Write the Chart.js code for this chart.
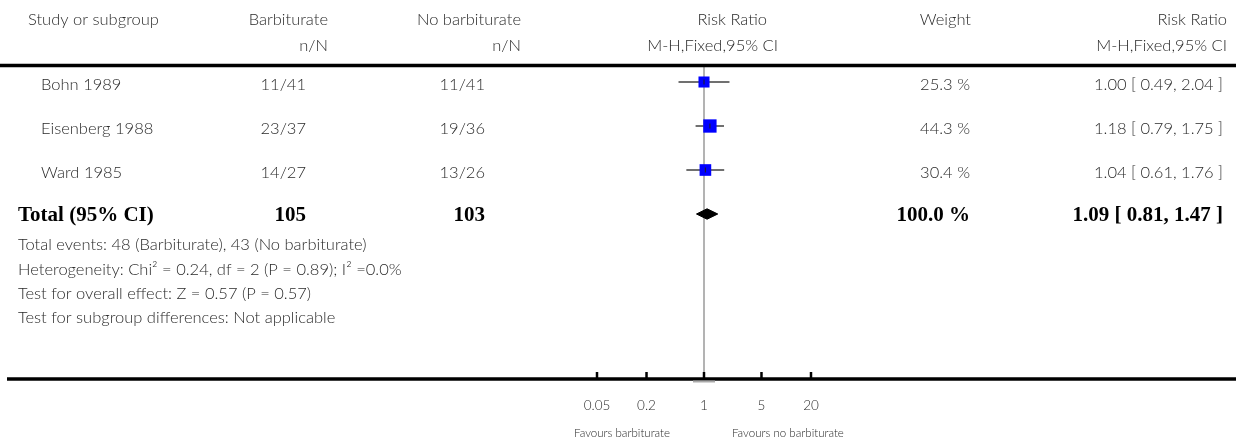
<!DOCTYPE html>
<html lang="en">
<head>
    <meta charset="UTF-8">
    <title>Forest plot - Barbiturate vs no barbiturate</title>
    <style>
        html, body { margin: 0; padding: 0; background: #fff; }
        #wrap { width: 1236px; height: 447px; }
    </style>
    <script src="https://cdn.jsdelivr.net/npm/chart.js"></script>
</head>
<body>
<div id="wrap"><canvas id="forest"></canvas></div>

<script>
    // data
    const studies = ['Bohn 1989', 'Eisenberg 1988', 'Ward 1985'];
    const barbEvents = ['11/41', '23/37', '14/27'];
    const noBarbEvents = ['11/41', '19/36', '13/26'];
    const weights = [25.3, 44.3, 30.4];
    const riskRatio = [1.00, 1.18, 1.04];
    const ciLow = [0.49, 0.79, 0.61];
    const ciHigh = [2.04, 1.75, 1.76];

    const totalLabel = 'Total (95% CI)';
    const totalBarbN = 105;
    const totalNoBarbN = 103;
    const totalWeight = 100.0;
    const totalRR = [1.09];
    const totalLow = [0.81];
    const totalHigh = [1.47];

    const footnotes = [
        'Total events: 48 (Barbiturate), 43 (No barbiturate)',
        'Heterogeneity: Chi\u00b2 = 0.24, df = 2 (P = 0.89); I\u00b2 =0.0%',
        'Test for overall effect: Z = 0.57 (P = 0.57)',
        'Test for subgroup differences: Not applicable'
    ];
    const xTicks = [0.05, 0.2, 1, 5, 20];
    const favoursLeft = 'Favours barbiturate';
    const favoursRight = 'Favours no barbiturate';

    // layout (pixels)
    const ROW_MIN = 0.6136, ROW_MAX = 7.727;   // row 1 sits 17px under the top rule, rows 44px apart
    const LIGHT = '300 16.5px Lato, "Open Sans", sans-serif';
    const BOLD = 'bold 21px "Liberation Serif", "DejaVu Serif", serif';
    const TXT = '#2a2a2a';

    const fmt2 = v => v.toFixed(2);
    const rows = studies.map((s, i) => i + 1);
    const totalRow = studies.length + 1;

    // datasets (lower order is drawn on top)
    const datasets = [];
    datasets.push({
        type: 'line', order: 6, data: [{ x: 1, y: ROW_MIN }, { x: 1, y: ROW_MAX }],
        borderColor: '#9a9a9a', borderWidth: 1.5, pointRadius: 0
    });
    studies.forEach((s, i) => {
        datasets.push({
            type: 'line', order: 5, data: [{ x: ciLow[i], y: rows[i] }, { x: ciHigh[i], y: rows[i] }],
            borderColor: '#707070', borderWidth: 2, pointRadius: 0
        });
    });
    datasets.push({
        type: 'scatter', order: 3,
        data: studies.map((s, i) => ({ x: riskRatio[i], y: rows[i] })),
        pointStyle: 'rect',
        pointRadius: weights.map(w => (8 + w * 0.12) / Math.SQRT2),
        backgroundColor: '#0000ff', borderColor: '#0000ff', borderWidth: 0
    });
    datasets.push({
        type: 'scatter', order: 2,
        data: studies.map((s, i) => ({ x: riskRatio[i], y: rows[i] })),
        pointStyle: 'line', rotation: 90, pointRadius: 2.5,
        borderColor: '#1a1a40', borderWidth: 1.2
    });
    // pooled diamond
    const dh = 5.2 / 44;
    datasets.push({
        type: 'line', order: 1,
        data: [
            { x: totalLow[0], y: totalRow },
            { x: totalRR[0], y: totalRow - dh },
            { x: totalHigh[0], y: totalRow },
            { x: totalRR[0], y: totalRow + dh },
            { x: totalLow[0], y: totalRow }
        ],
        borderColor: '#000', borderWidth: 1, backgroundColor: '#000',
        fill: 'shape', pointRadius: 0, tension: 0
    });

    function txt(ctx, s, x, y, align, font, color) {
        ctx.font = font;
        ctx.fillStyle = color || TXT;
        ctx.textAlign = align;
        ctx.textBaseline = 'middle';
        ctx.fillText(s, x, y);
    }

    const tablePlugin = {
        id: 'table',
        afterDraw(chart) {
            const ctx = chart.ctx;
            const xs = chart.scales.x, ys = chart.scales.y;
            const W = chart.width;
            ctx.save();

            // header
            txt(ctx, 'Study or subgroup', 28, 20, 'left', LIGHT);
            txt(ctx, 'Barbiturate', 328, 20, 'right', LIGHT);
            txt(ctx, 'n/N', 328, 46, 'right', LIGHT);
            txt(ctx, 'No barbiturate', 521, 20, 'right', LIGHT);
            txt(ctx, 'n/N', 521, 46, 'right', LIGHT);
            txt(ctx, 'Risk Ratio', 767, 20, 'right', LIGHT);
            txt(ctx, 'M-H,Fixed,95% CI', 778, 46, 'right', LIGHT);
            txt(ctx, 'Weight', 971, 20, 'right', LIGHT);
            txt(ctx, 'Risk Ratio', 1227, 20, 'right', LIGHT);
            txt(ctx, 'M-H,Fixed,95% CI', 1227, 46, 'right', LIGHT);

            // rules
            ctx.strokeStyle = '#000';
            ctx.lineWidth = 3.5;
            ctx.beginPath();
            ctx.moveTo(0, chart.chartArea.top + 0.5);
            ctx.lineTo(W, chart.chartArea.top + 0.5);
            ctx.stroke();
            const axisY = chart.chartArea.bottom + 1;
            ctx.beginPath();
            ctx.moveTo(7, axisY);
            ctx.lineTo(W, axisY);
            ctx.stroke();

            // study rows
            studies.forEach((s, i) => {
                const y = ys.getPixelForValue(rows[i]) + 3;
                txt(ctx, s, 41, y, 'left', LIGHT);
                txt(ctx, barbEvents[i], 306, y, 'right', LIGHT);
                txt(ctx, noBarbEvents[i], 485, y, 'right', LIGHT);
                txt(ctx, weights[i].toFixed(1) + ' %', 970, y, 'right', LIGHT);
                txt(ctx, fmt2(riskRatio[i]) + ' [ ' + fmt2(ciLow[i]) + ', ' + fmt2(ciHigh[i]) + ' ]', 1223, y, 'right', LIGHT);
            });

            // total row
            const ty = ys.getPixelForValue(totalRow) + 2;
            txt(ctx, totalLabel, 18, ty, 'left', BOLD, '#000');
            txt(ctx, String(totalBarbN), 306, ty, 'right', BOLD, '#000');
            txt(ctx, String(totalNoBarbN), 485, ty, 'right', BOLD, '#000');
            txt(ctx, totalWeight.toFixed(1) + ' %', 970, ty, 'right', BOLD, '#000');
            txt(ctx, fmt2(totalRR[0]) + ' [ ' + fmt2(totalLow[0]) + ', ' + fmt2(totalHigh[0]) + ' ]', 1223, ty, 'right', BOLD, '#000');

            // footnotes
            footnotes.forEach((f, i) => {
                txt(ctx, f, 18, 245 + i * 24.3, 'left', LIGHT);
            });

            // x axis ticks and labels
            ctx.strokeStyle = '#000';
            ctx.lineWidth = 2.5;
            xs.ticks.forEach(t => {
                const px = xs.getPixelForValue(t.value);
                ctx.beginPath();
                ctx.moveTo(px, axisY - 7);
                ctx.lineTo(px, axisY);
                ctx.stroke();
                txt(ctx, String(t.value), px, 406, 'center', '300 13.5px Lato, sans-serif');
            });
            const onePx = xs.getPixelForValue(1);
            ctx.strokeStyle = '#aaa';
            ctx.lineWidth = 2;
            ctx.beginPath();
            ctx.moveTo(onePx - 11, axisY + 2.5);
            ctx.lineTo(onePx + 11, axisY + 2.5);
            ctx.stroke();

            txt(ctx, favoursLeft, onePx - 34, 433, 'right', '300 11.5px Lato, sans-serif');
            txt(ctx, favoursRight, onePx + 28, 433, 'left', '300 11.5px Lato, sans-serif');
            ctx.restore();
        }
    };

    new Chart(document.getElementById('forest'), {
        type: 'scatter',
        data: { datasets: datasets },
        options: {
            responsive: true,
            maintainAspectRatio: false,
            animation: false,
            events: [],
            layout: { padding: { left: 597, right: 425, top: 65, bottom: 69 } },
            plugins: { legend: { display: false }, tooltip: { enabled: false } },
            scales: {
                x: {
                    type: 'logarithmic', min: 0.05, max: 20, display: false,
                    afterBuildTicks: s => { s.ticks = xTicks.map(v => ({ value: v })); }
                },
                y: { type: 'linear', min: ROW_MIN, max: ROW_MAX, reverse: true, display: false }
            }
        },
        plugins: [tablePlugin]
    });
</script>
</body>
</html>
